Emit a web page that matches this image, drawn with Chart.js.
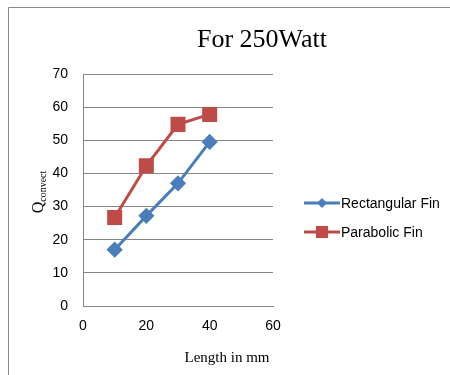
<!DOCTYPE html>
<html><head><meta charset="utf-8">
<script src="https://cdn.jsdelivr.net/npm/chart.js@4"></script>
<style>html,body{margin:0;padding:0;background:#fff}#c{display:block}</style>
</head><body>
<canvas id="c" width="450" height="375"></canvas>
<script>
const lengths = [10, 20, 30, 40];
const rectangularFin = [17, 27.2, 37, 49.5];
const parabolicFin = [26.7, 42.3, 54.8, 57.8];
const xTicks = [0, 20, 40, 60];
const yTicks = [0, 10, 20, 30, 40, 50, 60, 70];
const seriesNames = ['Rectangular Fin', 'Parabolic Fin'];
const titleText = 'For 250Watt';
const xTitle = 'Length in mm';

const BLUE = '#4A7EBB', RED = '#BE4B48';

const decor = {
  id: 'decor',
  beforeDraw(chart) {
    const c = chart.ctx;
    c.save();
    c.fillStyle = '#fff';
    c.fillRect(0, 0, chart.width, chart.height);
    c.strokeStyle = '#8a8a8a';
    c.lineWidth = 1;
    c.beginPath();
    c.moveTo(8.5, 375); c.lineTo(8.5, 7.5); c.lineTo(450, 7.5);
    c.stroke();
    c.restore();
  },
  afterDraw(chart) {
    const c = chart.ctx;
    c.save();
    c.fillStyle = '#000';
    c.textAlign = 'center';
    c.textBaseline = 'alphabetic';
    c.font = '26px "Liberation Serif"';
    c.fillText(titleText, 262, 47);
    c.font = '15px "Liberation Serif"';
    c.fillText(xTitle, 227, 362);
    // y title with subscript
    c.translate(43, 192);
    c.rotate(-Math.PI / 2);
    c.font = '16px "Liberation Serif"';
    const qw = c.measureText('Q').width;
    c.font = '10px "Liberation Serif"';
    const sw = c.measureText('convect').width;
    const start = -(qw + sw) / 2;
    c.textAlign = 'left';
    c.font = '16px "Liberation Serif"';
    c.fillText('Q', start, 0);
    c.font = '10px "Liberation Serif"';
    c.fillText('convect', start + qw, 3);
    c.restore();
    // legend
    c.save();
    const ds = chart.data.datasets;
    const rows = [203, 232];
    ds.forEach((d, i) => {
      const y = rows[i];
      c.strokeStyle = d.borderColor;
      c.lineWidth = 3;
      c.beginPath(); c.moveTo(304, y); c.lineTo(340, y); c.stroke();
      c.fillStyle = d.backgroundColor;
      c.beginPath();
      if (d.pointStyle === 'rectRot') {
        c.moveTo(322, y - 5); c.lineTo(327, y); c.lineTo(322, y + 5); c.lineTo(317, y); c.closePath();
      } else {
        c.rect(316, y - 6, 12, 12);
      }
      c.fill();
      c.fillStyle = '#000';
      c.font = '14px "Liberation Sans"';
      c.textAlign = 'left';
      c.textBaseline = 'middle';
      c.fillText(d.label, 341, y + 1);
    });
    c.restore();
  }
};

new Chart(document.getElementById('c'), {
  type: 'scatter',
  data: {
    datasets: [
      {
        label: seriesNames[0],
        data: lengths.map((x, i) => ({x, y: rectangularFin[i]})),
        showLine: true, borderColor: BLUE, backgroundColor: BLUE,
        borderWidth: 3, pointStyle: 'rectRot', pointRadius: 6, pointHoverRadius: 6
      },
      {
        label: seriesNames[1],
        data: lengths.map((x, i) => ({x, y: parabolicFin[i]})),
        showLine: true, borderColor: RED, backgroundColor: RED,
        borderWidth: 3, pointStyle: 'rect', pointRadius: 8.5, pointHoverRadius: 8.5
      }
    ]
  },
  options: {
    responsive: false, animation: false,
    layout: {padding: {left: 0, top: 74, right: 177, bottom: 0}},
    plugins: {legend: {display: false}, title: {display: false}, tooltip: {enabled: false}},
    scales: {
      x: {
        type: 'linear', min: 0, max: 60,
        afterBuildTicks: s => { s.ticks = xTicks.map(v => ({value: v})); },
        afterFit: s => { s.height = 69; },
        grid: {display: false, drawTicks: false},
        border: {display: true, color: '#868686', width: 1},
        ticks: {padding: 12, color: '#000', font: {family: 'Liberation Sans', size: 14}}
      },
      y: {
        type: 'linear', min: 0, max: 70,
        afterBuildTicks: s => { s.ticks = yTicks.map(v => ({value: v})); },
        afterFit: s => { s.width = 83; },
        grid: {color: '#868686', lineWidth: 1, drawTicks: false},
        border: {display: true, color: '#868686', width: 1},
        ticks: {padding: 15, color: '#000', font: {family: 'Liberation Sans', size: 14}}
      }
    }
  },
  plugins: [decor]
});
</script>
</body></html>
